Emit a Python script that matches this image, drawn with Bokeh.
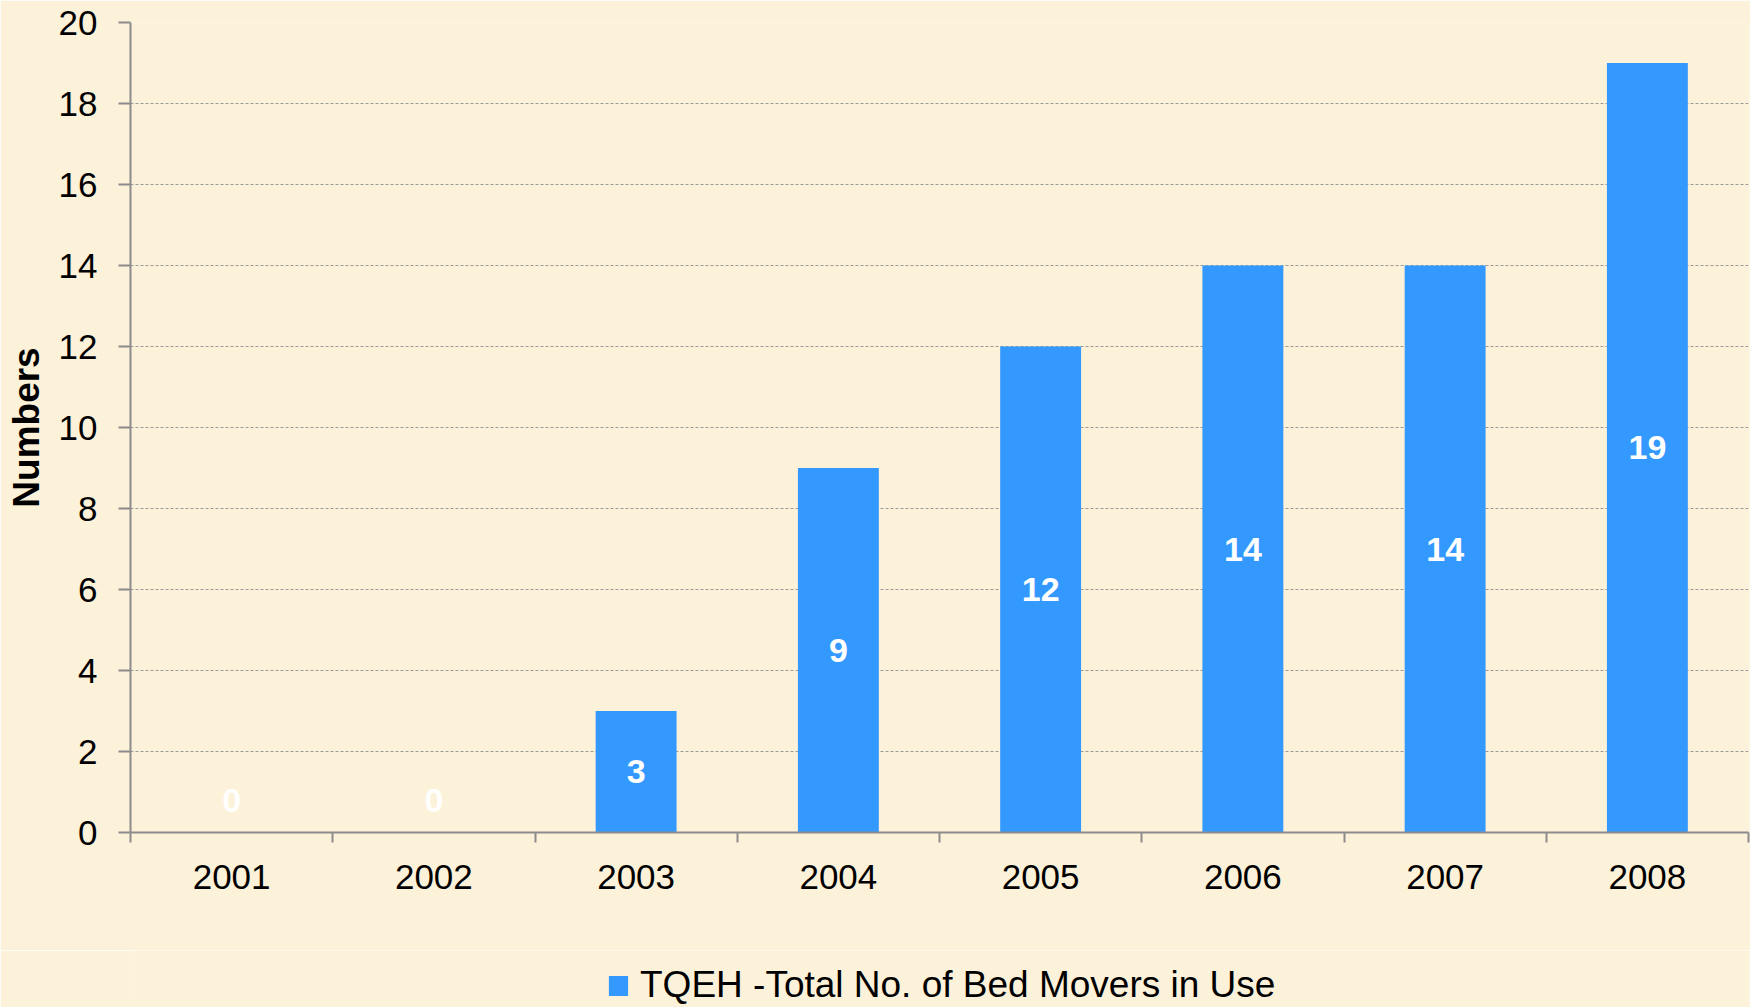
from bokeh.plotting import figure
from bokeh.layouts import column
from bokeh.models import FixedTicker, Legend, LegendItem, ColumnDataSource, Range1d
from bokeh.core.properties import value
from bokeh.embed import file_html
from bokeh.resources import INLINE

years = ["2001", "2002", "2003", "2004", "2005", "2006", "2007", "2008"]
bed_movers = [0, 0, 3, 9, 12, 14, 14, 19]
y_ticks = [0, 2, 4, 6, 8, 10, 12, 14, 16, 18, 20]
series_name = "TQEH -Total No. of Bed Movers in Use"

BG = "#FCF1D9"
BAR = "#3399FF"
AX = "#8C8C8C"

xs = [i + 0.5 for i in range(len(years))]
label_y = [v / 2 if v > 0 else 0.8 for v in bed_movers]
src = ColumnDataSource(dict(x=xs, top=bed_movers, ly=label_y,
                            txt=[str(v) for v in bed_movers]))

p = figure(width=1750, height=950, output_backend="svg", toolbar_location=None,
           x_range=Range1d(0, len(years)), y_range=Range1d(0, 20),
           min_border_left=130, min_border_right=2, min_border_top=22, min_border_bottom=118)
p.background_fill_color = BG
p.border_fill_color = BG
p.outline_line_color = None

r = p.vbar(x="x", top="top", width=0.4, bottom=0, source=src, fill_color=BAR, line_color=None)
p.text(x="x", y="ly", text="txt", source=src, text_color="white",
       text_font=value("Liberation Sans"), text_font_style="bold", text_font_size="34px",
       text_align="center", text_baseline="middle")

# x axis: labels at category centres, ticks at boundaries
xa = p.xaxis[0]
xa.ticker = FixedTicker(ticks=xs, minor_ticks=list(range(len(years) + 1)))
xa.major_label_overrides = {x: y for x, y in zip(xs, years)}
xa.major_tick_line_color = None
xa.minor_tick_in = 0
xa.minor_tick_out = 10
xa.minor_tick_line_color = AX
xa.minor_tick_line_width = 2
xa.axis_line_color = AX
xa.axis_line_width = 2
xa.major_label_text_font = "Liberation Sans"
xa.major_label_text_font_size = "35px"
xa.major_label_text_color = "black"
xa.major_label_standoff = 22

ya = p.yaxis[0]
ya.ticker = FixedTicker(ticks=y_ticks, minor_ticks=[])
ya.major_tick_in = 0
ya.major_tick_out = 12
ya.major_tick_line_color = AX
ya.major_tick_line_width = 2
ya.axis_line_color = AX
ya.axis_line_width = 2
ya.major_label_text_font = "Liberation Sans"
ya.major_label_text_font_size = "35px"
ya.major_label_text_color = "black"
ya.major_label_standoff = 21
ya.axis_label = "Numbers"
ya.axis_label_text_font = "Liberation Sans"
ya.axis_label_text_font_style = "bold"
ya.axis_label_text_font_size = "37px"
ya.axis_label_text_color = "black"
ya.axis_label_standoff = 9

p.xgrid.grid_line_color = None
p.ygrid.grid_line_color = "#9A9A9A"
p.ygrid.grid_line_dash = "3 2"
p.ygrid.grid_line_width = 1

# legend strip below the chart (its bars sit outside the visible y range)
lf = figure(width=1750, height=57, output_backend="svg", toolbar_location=None,
            x_axis_type=None, y_axis_type=None, x_range=Range1d(0, len(years)),
            y_range=Range1d(100, 101),
            min_border_left=0, min_border_right=0, min_border_top=0, min_border_bottom=0)
lf.background_fill_color = BG
lf.border_fill_color = BG
lf.outline_line_color = None
lf.xgrid.visible = False
lf.ygrid.visible = False
lr = lf.vbar(x="x", top="top", width=0.4, bottom=0, source=src, fill_color=BAR, line_color=None)

legend = Legend(items=[LegendItem(label=series_name, renderers=[lr])],
                location=(476, 1), orientation="horizontal",
                background_fill_alpha=0, border_line_color=None,
                glyph_width=24, glyph_height=25, label_standoff=10, padding=0, margin=0,
                label_text_font="Liberation Sans",
                label_text_font_size="37px", label_text_color="black")
lf.add_layout(legend, "center")

page = column(p, lf, spacing=0)
open("out.html", "w").write(file_html(page, INLINE))
